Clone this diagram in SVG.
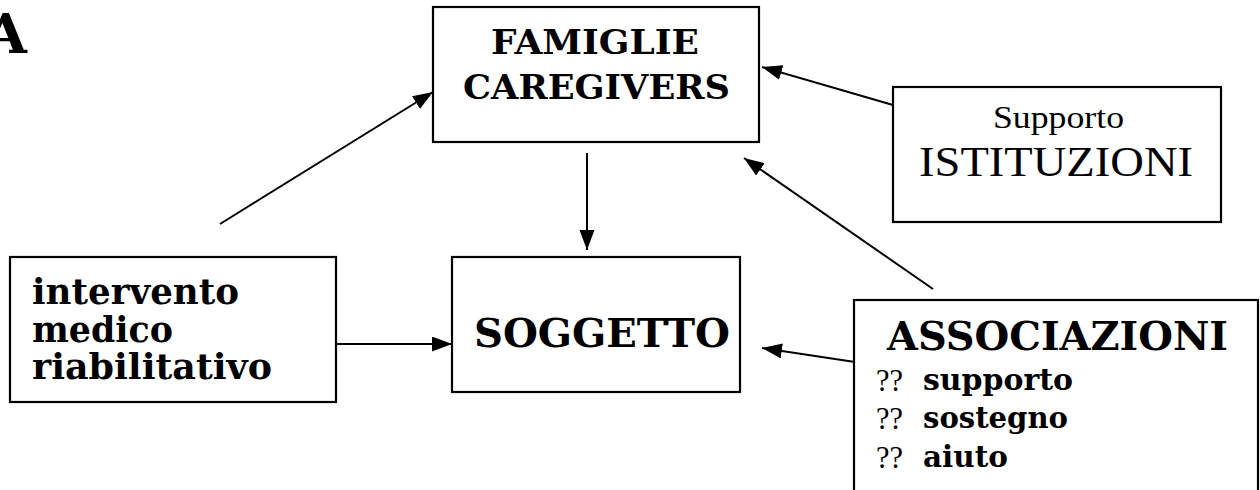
<svg xmlns="http://www.w3.org/2000/svg" width="1260" height="490" viewBox="0 0 1260 490">
<defs>
<marker id="ah" markerUnits="userSpaceOnUse" markerWidth="22" markerHeight="16" refX="20" refY="7.5" orient="auto">
<path d="M0,0 L20,7.5 L0,15 z" fill="#000"/>
</marker>
<style>
.box{fill:#fff;stroke:#000;stroke-width:2.2}
.b{font-family:"DejaVu Serif",serif;font-weight:bold;fill:#000}
.r{font-family:"Liberation Serif","Times New Roman",serif;fill:#000}
.c{stroke:#000;stroke-width:2;fill:none;marker-end:url(#ah)}
</style>
</defs>
<rect width="1260" height="490" fill="#fff"/>
<text class="b" x="-15" y="53" font-size="54">A</text>
<g id="connectors">
<line class="c" x1="220" y1="224" x2="433" y2="92"/>
<line class="c" x1="587" y1="153" x2="587" y2="250"/>
<line class="c" x1="893" y1="105" x2="762" y2="67"/>
<line class="c" x1="933" y1="289" x2="744" y2="158"/>
<line class="c" x1="855" y1="362" x2="762" y2="348"/>
<line class="c" x1="336" y1="344" x2="452" y2="344"/>
</g>
<g id="famiglie">
<rect class="box" x="433" y="7" width="326" height="135"/>
<text class="b" x="491" y="54" font-size="34" textLength="208" lengthAdjust="spacingAndGlyphs">FAMIGLIE</text>
<text class="b" x="463" y="99" font-size="34" textLength="267" lengthAdjust="spacingAndGlyphs">CAREGIVERS</text>
</g>
<g id="istituzioni">
<rect class="box" x="893" y="87" width="328" height="135"/>
<text class="r" x="993" y="128" font-size="31" textLength="131" lengthAdjust="spacingAndGlyphs">Supporto</text>
<text class="r" x="919" y="176" font-size="43" textLength="274" lengthAdjust="spacingAndGlyphs">ISTITUZIONI</text>
</g>
<g id="intervento">
<rect class="box" x="10" y="257" width="326" height="145"/>
<text class="b" x="32" y="304" font-size="35" textLength="207" lengthAdjust="spacingAndGlyphs">intervento</text>
<text class="b" x="32" y="342" font-size="35" textLength="141" lengthAdjust="spacingAndGlyphs">medico</text>
<text class="b" x="32" y="379" font-size="35" textLength="240" lengthAdjust="spacingAndGlyphs">riabilitativo</text>
</g>
<g id="soggetto">
<rect class="box" x="452" y="257" width="288" height="135"/>
<text class="b" x="474" y="347" font-size="40" textLength="256" lengthAdjust="spacingAndGlyphs">SOGGETTO</text>
</g>
<g id="associazioni">
<rect class="box" x="854" y="300" width="404" height="200"/>
<text class="b" x="887" y="350" font-size="40" textLength="341" lengthAdjust="spacingAndGlyphs">ASSOCIAZIONI</text>
<text class="r" x="876" y="391" font-size="31" textLength="27" lengthAdjust="spacingAndGlyphs">??</text>
<text class="b" x="923" y="390" font-size="30" textLength="150" lengthAdjust="spacingAndGlyphs">supporto</text>
<text class="r" x="876" y="429" font-size="31" textLength="27" lengthAdjust="spacingAndGlyphs">??</text>
<text class="b" x="923" y="428" font-size="30" textLength="145" lengthAdjust="spacingAndGlyphs">sostegno</text>
<text class="r" x="876" y="468" font-size="31" textLength="27" lengthAdjust="spacingAndGlyphs">??</text>
<text class="b" x="923" y="467" font-size="30" textLength="85" lengthAdjust="spacingAndGlyphs">aiuto</text>
</g>
</svg>
